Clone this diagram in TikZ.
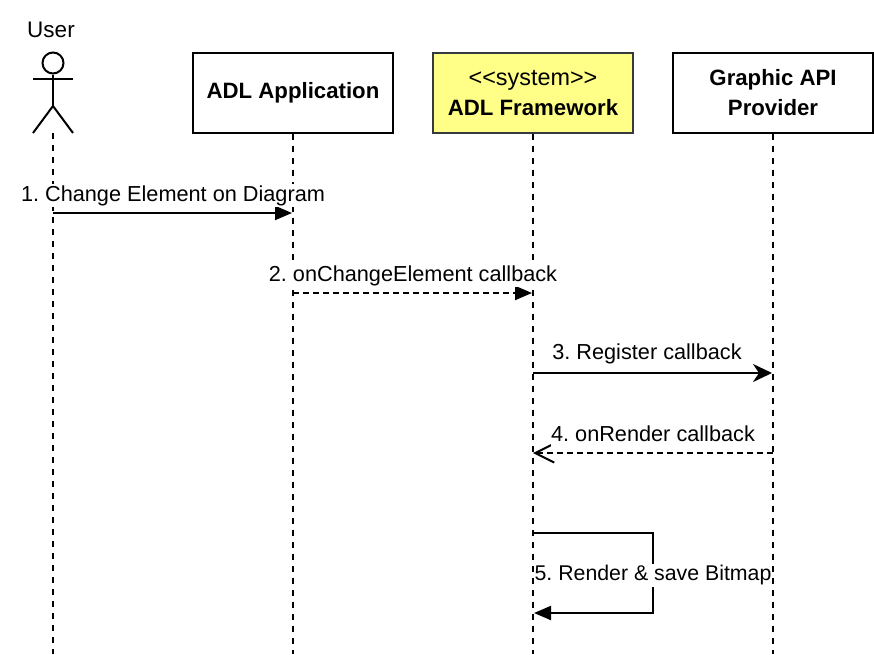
\documentclass[tikz,border=0pt]{standalone}
\usepackage{fontspec}
\setmainfont{Liberation Sans}
\usetikzlibrary{positioning,arrows.meta,calc}
\definecolor{gul}{RGB}{255,255,136}
\definecolor{kant}{RGB}{54,57,61}

\begin{document}
\begin{tikzpicture}[
  x=1pt, y=-1pt,
  every node/.style={font=\fontsize{21.7}{30}\selectfont\frenchspacing},
  boks/.style={draw, line width=2pt, align=center, minimum width=200pt, minimum height=80pt, inner sep=0pt,
    font=\fontsize{22.2}{30}\selectfont\bfseries\frenchspacing},
  livslinje/.style={line width=2pt, dash pattern=on 6pt off 6pt},
  strek/.style={line width=2pt, dash pattern=on 6pt off 4pt},
  pil/.style={-{Triangle[length=17pt,width=14pt]}, line width=2pt, shorten >=1pt},
  spiss/.style={-{Stealth[length=19pt,width=18pt,inset=6pt]}, line width=2pt, shorten >=1pt},
  svar/.style={-{Straight Barb[length=19pt,width=19pt,line width=2pt]}, line width=2pt},
  merke/.style={inner sep=0pt, fill=white, text height=17pt, text depth=6pt}
]
\useasboundingbox (0,0) rectangle (874,654);
\node[boks] (app) at (293,93) {ADL Application};
\node[boks, fill=gul, draw=kant] (framework) at (533,93) {{\fontsize{23.4}{30}\selectfont\mdseries <{}<system>{}>}\\ ADL Framework};
\node[boks] (provider) at (773,93) {Graphic API\\ Provider};
\node[font=\fontsize{22.5}{30}\selectfont] (user) at (51,30) {User};
% stick figure
\node[circle, draw, line width=2pt, minimum size=21pt, inner sep=0pt] (head) at (53,63) {};
\coordinate (hip) at (53,106);
\coordinate (footl) at (33,133);
\coordinate (footr) at (73,133);
\coordinate (arml) at (33,79);
\coordinate (armr) at (73,79);
\draw[line width=2pt] (head.south) -- (hip);
\draw[line width=2pt] (arml) -- (armr);
\draw[line width=2pt] (footl) -- (hip) -- (footr);
% lifelines
\coordinate (top) at (53,133);
\coordinate (base) at (53,654);
\coordinate (append) at (293,654);
\coordinate (frameworkend) at (533,654);
\coordinate (providerend) at (773,654);
\draw[livslinje] (top) -- (base);
\draw[livslinje] (app.south) -- (append);
\draw[livslinje] (framework.south) -- (frameworkend);
\draw[livslinje] (provider.south) -- (providerend);
% messages
\coordinate (m1a) at (53,213); \coordinate (m1b) at (293,213);
\coordinate (m2a) at (293,293); \coordinate (m2b) at (533,293);
\coordinate (m3a) at (533,373); \coordinate (m3b) at (773,373);
\coordinate (m4a) at (773,453); \coordinate (m4b) at (533,453);
\coordinate (m5a) at (533,533); \coordinate (m5b) at (533,613);
\coordinate (m5c) at (653,533); \coordinate (m5d) at (653,613);
\draw[pil] (m1a) -- (m1b);
\node[merke] (l1) at (173,195.5) {1. Change Element on Diagram};
\draw[pil, strek] (m2a) -- (m2b);
\node[merke] (l2) at (413,275.5) {2. onChangeElement callback};
\draw[spiss] (m3a) -- (m3b);
\node[merke] (l3) at (647,353.5) {3. Register callback};
\draw[svar, strek] (m4a) -- (m4b);
\node[merke] (l4) at (653,435.5) {4. onRender callback};
\draw[pil] (m5a) -- (m5c) -- (m5d) -- (m5b);
\node[merke, font=\fontsize{21.3}{30}\selectfont\frenchspacing] (l5) at (653,575) {5. Render \& save Bitmap};
\end{tikzpicture}
\end{document}
